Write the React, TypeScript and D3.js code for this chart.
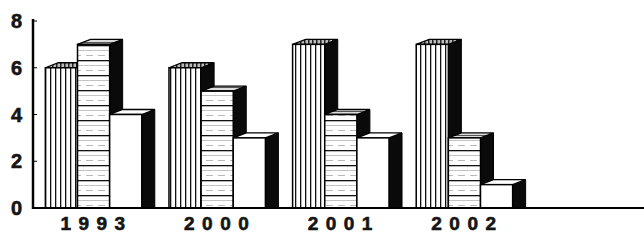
import React from "react";
import * as d3 from "d3";

const categories = ["1993", "2000", "2001", "2002"];
const seriesNames = ["A", "B", "C"];
const seriesA = [6, 6, 7, 7];
const seriesB = [7, 5, 4, 3];
const seriesC = [4, 3, 3, 1];
const yTicks = [0, 2, 4, 6, 8];

const W = 644;
const H = 240;
const DX = 13;
const DY = 5;

export default function App() {
  const x0 = d3.scaleBand<string>().domain(categories).range([33, 525]).paddingInner(0.22).paddingOuter(0.1);
  const x1 = d3.scaleBand<string>().domain(seriesNames).range([0, x0.bandwidth()]).padding(0);
  const y = d3.scaleLinear().domain([0, 8]).range([208, 21]);
  const series = [seriesA, seriesB, seriesC];
  const fronts = ["url(#vstripe)", "url(#hstripe)", "#ffffff"];
  const tops = ["url(#vtop)", "url(#htop)", "#ffffff"];
  const y0 = y(0);

  return (
    <svg width={W} height={H} style={{ position: "absolute", left: 0, top: 0, background: "#fff" }}>
      <defs>
        <pattern id="vstripe" width="5" height="5" patternUnits="userSpaceOnUse">
          <rect width="5" height="5" fill="#fff" />
          <rect x="0" y="0" width="1.3" height="5" fill="#111" />
        </pattern>
        <pattern id="vtop" width="4" height="4" patternUnits="userSpaceOnUse">
          <rect width="4" height="4" fill="#bbb" />
          <rect x="0" y="0" width="1.5" height="4" fill="#222" />
        </pattern>
        <pattern id="hstripe" width="12" height="15" patternUnits="userSpaceOnUse">
          <rect width="12" height="15" fill="#fff" />
          <rect x="0" y="0" width="12" height="1.3" fill="#111" />
          <rect x="0" y="5" width="12" height="0.7" fill="#aaa" />
          <rect x="2" y="10" width="7" height="0.7" fill="#999" />
        </pattern>
        <pattern id="htop" width="4" height="3" patternUnits="userSpaceOnUse">
          <rect width="4" height="3" fill="#ddd" />
          <rect x="0" y="0" width="4" height="1" fill="#555" />
        </pattern>
      </defs>

      {categories.map((c, ci) => (
        <g key={c}>
          {series.map((s, si) => {
            const bx = (x0(c) as number) + (x1(seriesNames[si]) as number);
            const bw = x1.bandwidth();
            const by = y(s[ci]);
            return (
              <g key={si}>
                <polygon
                  points={`${bx + bw},${by} ${bx + bw + DX},${by - DY} ${bx + bw + DX},${y0} ${bx + bw},${y0}`}
                  fill="#0a0a0a"
                  stroke="#000"
                  strokeWidth={1}
                />
                <polygon
                  points={`${bx},${by} ${bx + DX},${by - DY} ${bx + bw + DX},${by - DY} ${bx + bw},${by}`}
                  fill={tops[si]}
                  stroke="#000"
                  strokeWidth={1.3}
                />
                <rect x={bx} y={by} width={bw} height={y0 - by} fill={fronts[si]} stroke="#000" strokeWidth={1.5} />
              </g>
            );
          })}
          <text
            x={(x0(c) as number) + x0.bandwidth() / 2 + 3}
            y={230}
            textAnchor="middle"
            fontFamily="'Liberation Sans', Arial, sans-serif"
            fontWeight="bold"
            fontSize={19}
            letterSpacing={7.5}
            fill="#151515"
            stroke="#151515"
            strokeWidth={0.6}
          >
            {c}
          </text>
        </g>
      ))}

      <line x1={33} x2={644} y1={y0} y2={y0} stroke="#000" strokeWidth={2} />
      <line x1={33} x2={33} y1={y(8) - 2} y2={y0 + 1} stroke="#000" strokeWidth={2.5} />
      {yTicks.map((t) => (
        <g key={t}>
          <line x1={33} x2={37} y1={y(t)} y2={y(t)} stroke="#000" strokeWidth={1} />
          <text
            x={22}
            y={y(t)}
            dy="0.36em"
            textAnchor="end"
            fontFamily="'Liberation Sans', Arial, sans-serif"
            fontWeight="bold"
            fontSize={20}
            fill="#151515"
            stroke="#151515"
            strokeWidth={0.6}
          >
            {t}
          </text>
        </g>
      ))}
    </svg>
  );
}
